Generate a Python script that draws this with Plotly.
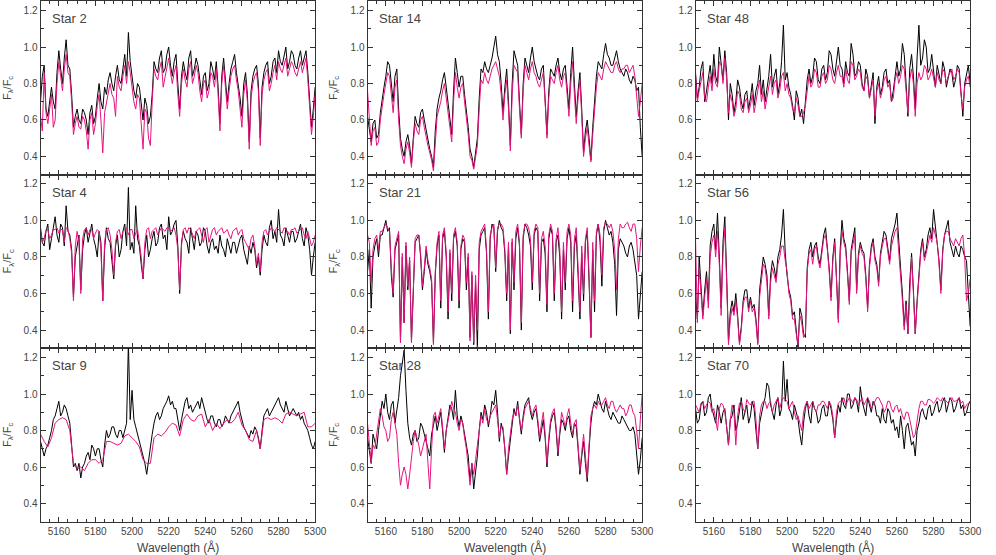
import numpy as np
import plotly.graph_objects as go

# wavelength grids (Angstrom): 1 A for the spectra, 2 A for the smooth Star 9 model
wave = np.arange(5150, 5301, 1)
wave_coarse = np.arange(5150, 5301, 2)

obs_2 = [0.70, 0.84, 0.90, 0.66, 0.62, 0.72, 0.78, 0.70, 0.66, 0.86,
         0.98, 0.88, 0.80, 0.94, 1.04, 0.90, 0.88, 0.74, 0.56, 0.62,
         0.66, 0.60, 0.58, 0.66, 0.64, 0.60, 0.52, 0.64, 0.68, 0.58,
         0.62, 0.72, 0.80, 0.70, 0.66, 0.78, 0.74, 0.82, 0.86, 0.80,
         0.76, 0.84, 0.90, 0.82, 0.80, 0.88, 0.96, 0.84, 1.08, 0.92,
         0.82, 0.76, 0.72, 0.80, 0.78, 0.70, 0.60, 0.72, 0.68, 0.58,
         0.62, 0.74, 0.92, 0.88, 0.86, 0.94, 0.98, 0.86, 0.88, 0.96,
         1.00, 0.90, 0.84, 0.92, 0.96, 0.80, 0.66, 0.84, 0.92, 0.86,
         0.82, 0.94, 0.98, 0.84, 0.88, 0.94, 0.90, 0.82, 0.74, 0.84,
         0.86, 0.76, 0.80, 0.92, 0.88, 0.82, 0.92, 0.78, 0.58, 0.84,
         0.94, 0.82, 0.70, 0.80, 0.88, 0.92, 0.96, 0.86, 0.80, 0.72,
         0.62, 0.80, 0.86, 0.74, 0.48, 0.76, 0.84, 0.88, 0.90, 0.80,
         0.50, 0.78, 0.86, 0.90, 0.92, 0.80, 0.84, 0.92, 0.94, 0.86,
         0.98, 0.92, 0.90, 0.96, 1.00, 0.88, 0.92, 0.98, 0.96, 0.90,
         0.88, 0.94, 0.98, 0.90, 0.94, 0.98, 0.86, 0.72, 0.56, 0.66,
         0.78]
mod_2 = [0.62, 0.54, 0.86, 0.64, 0.58, 0.66, 0.74, 0.56, 0.60, 0.80,
         0.92, 0.84, 0.76, 0.88, 0.96, 0.86, 0.84, 0.70, 0.52, 0.58,
         0.62, 0.56, 0.55, 0.62, 0.60, 0.54, 0.44, 0.60, 0.64, 0.52,
         0.58, 0.68, 0.74, 0.60, 0.42, 0.64, 0.70, 0.76, 0.80, 0.74,
         0.72, 0.62, 0.84, 0.78, 0.76, 0.84, 0.90, 0.80, 0.92, 0.86,
         0.78, 0.70, 0.66, 0.74, 0.72, 0.58, 0.44, 0.66, 0.64, 0.50,
         0.46, 0.70, 0.88, 0.84, 0.82, 0.88, 0.92, 0.78, 0.84, 0.90,
         0.94, 0.86, 0.80, 0.86, 0.90, 0.74, 0.62, 0.80, 0.88, 0.82,
         0.78, 0.88, 0.92, 0.80, 0.84, 0.90, 0.86, 0.76, 0.70, 0.80,
         0.82, 0.72, 0.76, 0.86, 0.84, 0.78, 0.88, 0.74, 0.54, 0.80,
         0.90, 0.78, 0.66, 0.76, 0.84, 0.88, 0.90, 0.82, 0.76, 0.66,
         0.56, 0.74, 0.82, 0.70, 0.44, 0.72, 0.80, 0.84, 0.86, 0.76,
         0.46, 0.74, 0.82, 0.86, 0.88, 0.76, 0.80, 0.86, 0.90, 0.82,
         0.92, 0.88, 0.86, 0.90, 0.94, 0.84, 0.88, 0.92, 0.90, 0.86,
         0.84, 0.88, 0.92, 0.86, 0.90, 0.94, 0.82, 0.68, 0.52, 0.62,
         0.74]

obs_14 = [0.62, 0.54, 0.48, 0.58, 0.60, 0.50, 0.52, 0.64, 0.72, 0.78,
          0.84, 0.92, 0.90, 0.80, 0.70, 0.84, 0.88, 0.66, 0.50, 0.44,
          0.40, 0.48, 0.52, 0.46, 0.36, 0.50, 0.62, 0.58, 0.56, 0.64,
          0.66, 0.60, 0.54, 0.48, 0.44, 0.40, 0.34, 0.54, 0.66, 0.72,
          0.76, 0.82, 0.86, 0.78, 0.68, 0.60, 0.52, 0.76, 0.94, 0.86,
          0.78, 0.84, 0.84, 0.74, 0.66, 0.56, 0.44, 0.40, 0.34, 0.42,
          0.50, 0.72, 0.88, 0.86, 0.92, 0.88, 0.86, 0.90, 0.94, 1.00,
          1.06, 0.96, 0.92, 0.80, 0.64, 0.78, 0.88, 0.70, 0.46, 0.80,
          0.98, 0.94, 0.90, 0.70, 0.52, 0.80, 0.94, 0.90, 0.86, 0.94,
          1.00, 0.92, 0.88, 0.84, 0.82, 0.88, 0.90, 0.74, 0.52, 0.76,
          0.88, 0.86, 0.84, 0.90, 0.94, 0.86, 0.82, 0.88, 0.90, 0.78,
          0.66, 0.86, 1.00, 0.80, 0.62, 0.76, 0.86, 0.66, 0.42, 0.54,
          0.60, 0.50, 0.38, 0.56, 0.70, 0.84, 0.92, 0.90, 0.88, 0.96,
          1.02, 0.96, 0.94, 0.90, 0.90, 0.94, 0.98, 0.92, 0.88, 0.86,
          0.84, 0.88, 0.86, 0.82, 0.80, 0.84, 0.82, 0.76, 0.78, 0.56,
          0.40]
mod_14 = [0.76, 0.58, 0.46, 0.54, 0.56, 0.46, 0.48, 0.60, 0.68, 0.74,
          0.80, 0.86, 0.84, 0.74, 0.64, 0.78, 0.82, 0.60, 0.46, 0.40,
          0.36, 0.44, 0.48, 0.42, 0.34, 0.48, 0.58, 0.54, 0.52, 0.60,
          0.62, 0.56, 0.50, 0.46, 0.42, 0.38, 0.32, 0.50, 0.62, 0.66,
          0.70, 0.76, 0.80, 0.72, 0.64, 0.56, 0.48, 0.70, 0.86, 0.78,
          0.72, 0.78, 0.80, 0.70, 0.62, 0.52, 0.40, 0.38, 0.33, 0.40,
          0.46, 0.66, 0.82, 0.80, 0.86, 0.82, 0.80, 0.84, 0.88, 0.90,
          0.92, 0.88, 0.84, 0.74, 0.60, 0.74, 0.82, 0.66, 0.43, 0.74,
          0.90, 0.88, 0.86, 0.66, 0.50, 0.76, 0.90, 0.86, 0.82, 0.88,
          0.92, 0.86, 0.84, 0.80, 0.78, 0.82, 0.86, 0.70, 0.50, 0.72,
          0.84, 0.82, 0.80, 0.86, 0.90, 0.82, 0.78, 0.84, 0.86, 0.74,
          0.62, 0.80, 0.92, 0.74, 0.58, 0.72, 0.82, 0.62, 0.40, 0.50,
          0.56, 0.46, 0.37, 0.52, 0.66, 0.78, 0.86, 0.84, 0.82, 0.88,
          0.92, 0.90, 0.88, 0.86, 0.86, 0.90, 0.92, 0.88, 0.86, 0.88,
          0.88, 0.90, 0.90, 0.86, 0.88, 0.90, 0.84, 0.72, 0.62, 0.70,
          0.80]

obs_48 = [0.86, 0.72, 0.78, 0.88, 0.92, 0.70, 0.76, 0.84, 0.90, 0.80,
          0.96, 0.84, 0.80, 1.00, 0.92, 0.82, 0.98, 0.86, 0.60, 0.80,
          0.74, 0.64, 0.70, 0.82, 0.78, 0.70, 0.66, 0.74, 0.76, 0.66,
          0.72, 0.80, 0.68, 0.76, 0.80, 0.90, 0.74, 0.82, 0.70, 0.78,
          0.84, 0.96, 0.78, 0.84, 0.88, 0.74, 0.80, 0.92, 1.12, 0.82,
          0.86, 0.78, 0.74, 0.68, 0.60, 0.76, 0.72, 0.62, 0.66, 0.58,
          0.70, 0.82, 0.88, 0.80, 0.84, 0.94, 0.92, 0.82, 0.80, 0.88,
          0.90, 0.82, 0.86, 0.98, 0.96, 0.88, 0.84, 0.92, 1.00, 0.90,
          0.88, 0.80, 0.92, 0.86, 0.84, 1.02, 0.96, 0.84, 0.86, 0.92,
          0.90, 0.80, 0.76, 0.88, 0.84, 0.72, 0.80, 0.86, 0.58, 0.78,
          0.84, 0.74, 0.78, 0.86, 0.88, 0.80, 0.82, 0.70, 0.76, 0.86,
          0.92, 0.84, 0.88, 1.02, 0.96, 0.80, 0.62, 0.88, 0.96, 0.84,
          0.66, 0.94, 1.12, 0.90, 0.94, 1.04, 1.00, 0.86, 0.88, 0.96,
          0.86, 0.78, 0.90, 0.84, 0.80, 0.92, 0.88, 0.78, 0.84, 0.88,
          0.86, 0.78, 0.82, 0.90, 0.88, 0.76, 0.62, 0.80, 0.86, 0.90,
          0.80]
mod_48 = [0.84, 0.70, 0.76, 0.82, 0.86, 0.72, 0.70, 0.78, 0.84, 0.76,
          0.88, 0.80, 0.78, 0.92, 0.90, 0.80, 0.94, 0.82, 0.64, 0.74,
          0.70, 0.62, 0.66, 0.76, 0.74, 0.66, 0.64, 0.70, 0.72, 0.64,
          0.68, 0.74, 0.64, 0.70, 0.76, 0.82, 0.70, 0.76, 0.66, 0.72,
          0.78, 0.84, 0.74, 0.80, 0.82, 0.72, 0.76, 0.84, 0.86, 0.76,
          0.80, 0.74, 0.72, 0.66, 0.64, 0.72, 0.68, 0.62, 0.62, 0.64,
          0.68, 0.78, 0.84, 0.78, 0.80, 0.88, 0.86, 0.78, 0.78, 0.84,
          0.86, 0.80, 0.82, 0.90, 0.88, 0.82, 0.80, 0.86, 0.90, 0.84,
          0.84, 0.78, 0.88, 0.82, 0.80, 0.92, 0.90, 0.82, 0.84, 0.88,
          0.86, 0.78, 0.76, 0.84, 0.82, 0.72, 0.78, 0.82, 0.62, 0.76,
          0.80, 0.72, 0.76, 0.82, 0.84, 0.78, 0.80, 0.70, 0.72, 0.82,
          0.86, 0.80, 0.84, 0.90, 0.88, 0.78, 0.64, 0.82, 0.88, 0.80,
          0.62, 0.80, 0.86, 0.82, 0.84, 0.90, 0.88, 0.82, 0.84, 0.88,
          0.82, 0.78, 0.86, 0.82, 0.80, 0.88, 0.86, 0.80, 0.84, 0.86,
          0.88, 0.82, 0.84, 0.88, 0.86, 0.74, 0.66, 0.78, 0.82, 0.84,
          0.78]

obs_4 = [0.96, 0.88, 0.86, 0.94, 0.98, 0.84, 0.90, 0.96, 1.02, 0.92,
         0.88, 0.98, 0.96, 0.86, 1.08, 0.94, 0.92, 0.84, 0.58, 0.80,
         0.86, 0.92, 0.62, 0.84, 0.92, 0.96, 0.88, 0.94, 0.98, 0.90,
         0.86, 0.80, 0.94, 0.88, 0.56, 0.84, 0.96, 0.90, 0.88, 0.78,
         0.68, 0.86, 0.92, 0.80, 0.84, 0.94, 0.98, 0.86, 1.18, 0.84,
         0.88, 0.82, 1.08, 0.90, 0.86, 0.76, 0.68, 0.84, 0.92, 0.80,
         0.84, 0.90, 0.94, 0.86, 0.88, 0.96, 0.98, 0.90, 0.92, 0.84,
         1.02, 0.92, 0.94, 0.98, 1.00, 0.86, 0.60, 0.88, 0.94, 0.90,
         0.88, 0.82, 0.96, 0.90, 0.84, 0.94, 0.92, 0.86, 0.88, 0.96,
         0.94, 0.86, 0.82, 0.88, 0.90, 0.84, 0.86, 0.82, 0.92, 0.86,
         0.84, 0.80, 0.90, 0.86, 0.82, 0.88, 0.88, 0.82, 0.86, 0.90,
         0.92, 0.84, 0.80, 0.76, 0.86, 0.82, 0.88, 0.84, 0.74, 0.80,
         0.70, 0.84, 0.92, 0.88, 0.86, 0.96, 1.00, 0.90, 0.94, 0.88,
         1.06, 0.92, 0.90, 0.86, 0.96, 0.92, 0.88, 0.94, 0.94, 0.88,
         0.90, 0.94, 0.98, 0.90, 0.86, 0.96, 0.92, 0.84, 0.70, 0.80,
         0.88]
mod_4 = [0.94, 0.88, 0.90, 0.95, 0.95, 0.90, 0.92, 0.95, 0.95, 0.96,
         0.93, 0.95, 0.95, 0.88, 0.96, 0.95, 0.90, 0.82, 0.56, 0.86,
         0.94, 0.88, 0.60, 0.90, 0.95, 0.96, 0.92, 0.95, 0.95, 0.90,
         0.93, 0.95, 0.94, 0.84, 0.56, 0.88, 0.95, 0.96, 0.92, 0.84,
         0.70, 0.88, 0.94, 0.95, 0.90, 0.94, 0.95, 0.96, 0.92, 0.95,
         0.95, 0.90, 0.93, 0.95, 0.88, 0.80, 0.68, 0.88, 0.95, 0.96,
         0.90, 0.94, 0.95, 0.96, 0.92, 0.94, 0.96, 0.95, 0.94, 0.96,
         0.96, 0.94, 0.95, 0.96, 0.92, 0.84, 0.62, 0.86, 0.95, 0.96,
         0.93, 0.96, 0.95, 0.92, 0.90, 0.94, 0.95, 0.96, 0.92, 0.88,
         0.95, 0.96, 0.88, 0.92, 0.95, 0.96, 0.92, 0.94, 0.95, 0.96,
         0.93, 0.94, 0.95, 0.92, 0.90, 0.94, 0.95, 0.96, 0.92, 0.94,
         0.95, 0.90, 0.88, 0.86, 0.84, 0.90, 0.92, 0.86, 0.76, 0.82,
         0.72, 0.88, 0.94, 0.95, 0.92, 0.94, 0.96, 0.95, 0.94, 0.96,
         0.95, 0.94, 0.93, 0.96, 0.95, 0.94, 0.92, 0.95, 0.95, 0.96,
         0.93, 0.94, 0.95, 0.96, 0.92, 0.90, 0.94, 0.90, 0.86, 0.88,
         0.92]

obs_21 = [0.72, 0.84, 0.52, 0.80, 0.86, 0.90, 0.80, 0.92, 0.92, 0.96,
          1.00, 0.94, 0.96, 0.70, 0.58, 0.84, 0.88, 0.92, 0.34, 0.80,
          0.44, 0.86, 0.62, 0.78, 0.34, 0.60, 0.88, 0.90, 0.92, 0.80,
          0.62, 0.72, 0.84, 0.76, 0.72, 0.66, 0.33, 0.70, 0.86, 0.92,
          0.52, 0.90, 0.94, 0.80, 0.46, 0.82, 0.56, 0.90, 0.94, 0.86,
          0.52, 0.84, 0.90, 0.88, 0.62, 0.80, 0.36, 0.70, 0.32, 0.66,
          0.30, 0.84, 0.92, 0.94, 0.96, 0.82, 0.46, 0.90, 0.98, 0.96,
          0.72, 0.94, 1.00, 0.96, 0.94, 0.82, 0.56, 0.86, 0.38, 0.88,
          0.62, 0.90, 0.96, 0.86, 0.40, 0.90, 0.98, 0.96, 0.92, 0.86,
          0.62, 0.92, 0.96, 0.94, 0.56, 0.88, 0.90, 0.82, 0.50, 0.90,
          0.96, 0.92, 0.56, 0.88, 0.92, 0.80, 0.46, 0.84, 0.62, 0.90,
          0.96, 0.88, 0.50, 0.86, 0.92, 0.70, 0.46, 0.82, 0.56, 0.88,
          0.94, 0.66, 0.36, 0.84, 0.50, 0.92, 0.98, 0.88, 0.64, 0.94,
          1.00, 0.96, 0.92, 0.94, 0.88, 0.76, 0.48, 0.84, 0.90, 0.88,
          0.86, 0.82, 0.80, 0.86, 0.88, 0.84, 0.78, 0.70, 0.46, 0.60,
          0.72]
mod_21 = [0.92, 0.88, 0.66, 0.84, 0.90, 0.92, 0.84, 0.94, 0.94, 0.96,
          0.98, 0.96, 0.94, 0.74, 0.60, 0.86, 0.90, 0.94, 0.33, 0.82,
          0.44, 0.88, 0.64, 0.80, 0.33, 0.62, 0.90, 0.92, 0.92, 0.82,
          0.64, 0.74, 0.86, 0.78, 0.74, 0.68, 0.32, 0.72, 0.88, 0.94,
          0.56, 0.92, 0.96, 0.82, 0.50, 0.84, 0.60, 0.92, 0.96, 0.88,
          0.56, 0.86, 0.92, 0.90, 0.66, 0.82, 0.34, 0.72, 0.33, 0.70,
          0.40, 0.88, 0.94, 0.96, 0.98, 0.84, 0.50, 0.92, 0.96, 0.98,
          0.74, 0.96, 0.98, 0.98, 0.96, 0.84, 0.60, 0.88, 0.40, 0.90,
          0.66, 0.94, 0.98, 0.88, 0.44, 0.92, 0.98, 0.98, 0.96, 0.90,
          0.66, 0.94, 0.98, 0.96, 0.60, 0.90, 0.94, 0.86, 0.54, 0.92,
          0.98, 0.94, 0.60, 0.90, 0.96, 0.84, 0.50, 0.88, 0.66, 0.94,
          0.98, 0.92, 0.56, 0.90, 0.96, 0.74, 0.50, 0.86, 0.60, 0.90,
          0.96, 0.70, 0.36, 0.88, 0.56, 0.94, 0.98, 0.92, 0.70, 0.96,
          0.99, 0.98, 0.96, 0.98, 0.94, 0.84, 0.62, 0.90, 0.98, 0.96,
          0.96, 0.98, 0.99, 0.96, 0.94, 0.98, 0.98, 0.90, 0.72, 0.86,
          0.96]

obs_56 = [0.60, 0.46, 0.80, 0.66, 0.48, 0.62, 0.72, 0.56, 0.86, 0.94,
          0.98, 0.84, 1.04, 0.80, 0.52, 0.88, 1.02, 0.70, 0.34, 0.50,
          0.56, 0.50, 0.60, 0.48, 0.33, 0.42, 0.56, 0.62, 0.62, 0.52,
          0.58, 0.52, 0.54, 0.46, 0.33, 0.62, 0.72, 0.80, 0.76, 0.70,
          0.48, 0.70, 0.78, 0.74, 0.68, 0.80, 0.84, 0.92, 1.06, 0.82,
          0.70, 0.62, 0.58, 0.48, 0.50, 0.40, 0.30, 0.52, 0.48, 0.38,
          0.36, 0.74, 0.84, 0.88, 0.80, 0.86, 0.88, 0.80, 0.76, 0.84,
          0.92, 0.96, 0.86, 0.74, 0.58, 0.80, 0.90, 0.70, 0.46, 0.84,
          1.00, 0.90, 0.86, 0.72, 0.56, 0.84, 0.90, 0.96, 0.62, 0.82,
          0.88, 0.84, 0.82, 0.70, 0.52, 0.76, 0.86, 0.90, 0.80, 0.76,
          0.66, 0.82, 0.88, 0.94, 0.92, 0.84, 0.78, 0.90, 0.94, 0.98,
          1.04, 0.86, 0.74, 0.60, 0.42, 0.56, 0.38, 0.66, 0.82, 0.62,
          0.38, 0.56, 0.72, 0.84, 0.90, 0.80, 0.84, 0.92, 0.96, 0.90,
          1.06, 0.96, 0.90, 0.78, 0.62, 0.84, 0.92, 0.96, 1.00, 0.88,
          0.84, 0.80, 0.86, 0.82, 0.80, 0.86, 0.84, 0.80, 0.78, 0.60,
          0.42]
mod_56 = [0.90, 0.44, 0.74, 0.62, 0.46, 0.58, 0.68, 0.52, 0.80, 0.88,
          0.92, 0.80, 0.94, 0.76, 0.48, 0.82, 0.96, 0.66, 0.32, 0.46,
          0.52, 0.48, 0.56, 0.46, 0.32, 0.40, 0.54, 0.58, 0.58, 0.50,
          0.56, 0.50, 0.52, 0.44, 0.32, 0.58, 0.68, 0.76, 0.74, 0.66,
          0.46, 0.66, 0.74, 0.70, 0.66, 0.76, 0.80, 0.86, 0.86, 0.78,
          0.72, 0.60, 0.56, 0.46, 0.46, 0.38, 0.32, 0.48, 0.44, 0.36,
          0.38, 0.72, 0.82, 0.84, 0.76, 0.84, 0.86, 0.78, 0.74, 0.82,
          0.90, 0.92, 0.84, 0.72, 0.56, 0.78, 0.88, 0.68, 0.44, 0.80,
          0.94, 0.88, 0.84, 0.70, 0.54, 0.82, 0.88, 0.92, 0.60, 0.80,
          0.86, 0.82, 0.80, 0.68, 0.50, 0.74, 0.84, 0.88, 0.78, 0.74,
          0.64, 0.80, 0.86, 0.90, 0.90, 0.82, 0.76, 0.86, 0.90, 0.94,
          0.96, 0.84, 0.70, 0.56, 0.40, 0.54, 0.38, 0.64, 0.80, 0.60,
          0.38, 0.54, 0.70, 0.82, 0.88, 0.78, 0.82, 0.88, 0.92, 0.88,
          0.96, 0.92, 0.88, 0.76, 0.60, 0.82, 0.92, 0.94, 0.94, 0.90,
          0.88, 0.86, 0.90, 0.88, 0.86, 0.90, 0.92, 0.80, 0.56, 0.60,
          0.68]

obs_9 = [0.74, 0.70, 0.66, 0.70, 0.72, 0.76, 0.80, 0.86, 0.88, 0.92,
         0.96, 0.88, 0.90, 0.94, 0.92, 0.88, 0.84, 0.72, 0.60, 0.62,
         0.58, 0.62, 0.54, 0.60, 0.62, 0.66, 0.68, 0.64, 0.72, 0.70,
         0.66, 0.70, 0.70, 0.64, 0.60, 0.72, 0.80, 0.76, 0.78, 0.82,
         0.82, 0.78, 0.76, 0.80, 0.80, 0.76, 0.80, 0.84, 1.28, 0.86,
         1.02, 0.86, 0.82, 0.78, 0.74, 0.70, 0.66, 0.62, 0.56, 0.64,
         0.70, 0.78, 0.84, 0.88, 0.90, 0.86, 0.88, 0.92, 0.94, 0.96,
         0.99, 0.94, 0.96, 0.92, 0.92, 0.86, 0.80, 0.86, 0.92, 0.96,
         0.98, 0.92, 0.94, 0.90, 0.92, 0.94, 0.96, 0.92, 0.98, 0.94,
         0.90, 0.86, 0.84, 0.88, 0.88, 0.84, 0.82, 0.86, 0.86, 0.82,
         0.84, 0.88, 0.86, 0.84, 0.88, 0.90, 0.92, 0.94, 0.96, 0.90,
         0.86, 0.82, 0.80, 0.78, 0.76, 0.80, 0.78, 0.82, 0.80, 0.76,
         0.70, 0.80, 0.88, 0.90, 0.92, 0.88, 0.90, 0.92, 0.94, 0.96,
         0.98, 0.94, 0.92, 0.90, 0.96, 0.92, 0.88, 0.90, 0.92, 0.90,
         0.88, 0.90, 0.86, 0.88, 0.84, 0.82, 0.80, 0.76, 0.72, 0.70,
         0.74]
mod_9 = [0.78, 0.74, 0.71, 0.76, 0.84, 0.86, 0.87, 0.86, 0.80, 0.62,
         0.59, 0.60, 0.58, 0.62, 0.64, 0.64, 0.62, 0.64, 0.74, 0.74,
         0.73, 0.72, 0.73, 0.77, 0.78, 0.76, 0.74, 0.71, 0.64, 0.62,
         0.62, 0.76, 0.78, 0.77, 0.79, 0.82, 0.84, 0.83, 0.77, 0.86,
         0.89, 0.86, 0.85, 0.88, 0.89, 0.82, 0.86, 0.80, 0.84, 0.81,
         0.84, 0.86, 0.84, 0.86, 0.90, 0.83, 0.80, 0.75, 0.74, 0.80,
         0.70, 0.86, 0.87, 0.86, 0.87, 0.86, 0.84, 0.89, 0.90, 0.89,
         0.88, 0.89, 0.90, 0.82, 0.82, 0.84]

obs_28 = [0.76, 0.70, 0.62, 0.78, 0.74, 0.70, 0.80, 0.90, 0.96, 0.92,
          1.00, 0.90, 0.86, 0.94, 0.96, 0.84, 0.90, 0.98, 1.10, 1.18,
          1.24, 1.02, 0.84, 0.76, 0.72, 0.78, 0.80, 0.74, 0.76, 0.84,
          0.82, 0.78, 0.74, 0.70, 0.66, 0.78, 0.84, 0.88, 0.80, 0.86,
          0.90, 0.80, 0.68, 0.80, 0.86, 0.94, 0.92, 0.86, 1.02, 0.88,
          0.82, 0.88, 0.84, 0.78, 0.72, 0.66, 0.52, 0.62, 0.48, 0.56,
          0.66, 0.80, 0.90, 0.86, 0.94, 0.90, 0.82, 0.88, 0.96, 0.94,
          1.02, 0.90, 0.74, 0.84, 0.80, 0.70, 0.56, 0.66, 0.76, 0.86,
          0.92, 0.88, 0.96, 0.86, 0.78, 0.88, 0.94, 0.96, 0.98, 0.90,
          0.86, 0.90, 0.92, 0.84, 0.74, 0.80, 0.86, 0.76, 0.60, 0.74,
          0.84, 0.88, 0.90, 0.80, 0.66, 0.78, 0.86, 0.84, 0.80, 0.86,
          0.88, 0.80, 0.76, 0.84, 0.82, 0.70, 0.56, 0.66, 0.74, 0.62,
          0.52, 0.70, 0.84, 0.92, 0.96, 0.94, 1.00, 0.96, 0.92, 0.90,
          0.96, 0.92, 0.88, 0.86, 0.90, 0.88, 0.86, 0.84, 0.84, 0.88,
          0.86, 0.84, 0.82, 0.80, 0.80, 0.82, 0.78, 0.66, 0.56, 0.64,
          0.76]
mod_28 = [0.84, 0.74, 0.62, 0.72, 0.70, 0.78, 0.86, 0.92, 0.88, 0.82,
          0.80, 0.74, 0.76, 0.86, 0.90, 0.84, 0.78, 0.62, 0.50, 0.56,
          0.60, 0.56, 0.48, 0.56, 0.66, 0.74, 0.80, 0.76, 0.72, 0.66,
          0.70, 0.74, 0.78, 0.62, 0.48, 0.70, 0.88, 0.90, 0.84, 0.88,
          0.92, 0.82, 0.70, 0.80, 0.86, 0.92, 0.96, 0.92, 0.90, 0.84,
          0.80, 0.86, 0.84, 0.76, 0.70, 0.60, 0.50, 0.62, 0.56, 0.64,
          0.72, 0.82, 0.88, 0.84, 0.92, 0.86, 0.84, 0.88, 0.90, 0.92,
          0.94, 0.86, 0.76, 0.82, 0.82, 0.70, 0.56, 0.70, 0.80, 0.86,
          0.90, 0.88, 0.94, 0.86, 0.80, 0.86, 0.92, 0.94, 0.96, 0.92,
          0.88, 0.92, 0.94, 0.86, 0.76, 0.84, 0.90, 0.78, 0.62, 0.76,
          0.86, 0.90, 0.92, 0.82, 0.68, 0.80, 0.90, 0.86, 0.82, 0.88,
          0.92, 0.84, 0.78, 0.84, 0.86, 0.72, 0.58, 0.68, 0.78, 0.66,
          0.54, 0.72, 0.88, 0.92, 0.94, 0.92, 0.96, 0.94, 0.94, 0.96,
          0.98, 0.94, 0.92, 0.96, 0.96, 0.92, 0.90, 0.92, 0.94, 0.92,
          0.92, 0.88, 0.90, 0.94, 0.94, 0.90, 0.88, 0.80, 0.70, 0.86,
          1.00]

obs_70 = [0.92, 0.84, 0.86, 0.94, 0.96, 0.88, 0.90, 0.98, 1.00, 0.92,
          0.88, 0.84, 0.94, 0.90, 0.84, 0.90, 0.92, 0.82, 0.72, 0.86,
          0.88, 0.94, 0.80, 0.84, 0.92, 0.98, 0.86, 0.90, 0.94, 0.84,
          0.88, 0.96, 0.92, 0.80, 0.70, 0.84, 0.90, 0.94, 0.98, 1.06,
          1.04, 0.94, 0.90, 0.86, 0.94, 0.98, 0.88, 0.92, 1.18, 0.96,
          1.08, 0.92, 0.90, 0.86, 0.94, 0.90, 0.86, 0.78, 0.72, 0.84,
          0.92, 0.96, 0.88, 0.84, 0.96, 0.92, 0.90, 0.84, 0.86, 0.92,
          0.94, 0.88, 0.88, 0.96, 0.92, 0.86, 0.76, 0.86, 0.94, 0.90,
          0.98, 0.94, 0.92, 1.00, 1.00, 0.92, 0.94, 0.98, 0.96, 0.90,
          1.04, 0.96, 0.92, 0.88, 0.98, 0.94, 0.90, 0.96, 0.94, 0.88,
          0.88, 0.84, 0.92, 0.86, 0.84, 0.92, 0.90, 0.84, 0.86, 0.80,
          0.82, 0.76, 0.88, 0.80, 0.70, 0.82, 0.84, 0.78, 0.72, 0.74,
          0.66, 0.80, 0.84, 0.90, 0.92, 0.88, 0.86, 0.92, 0.94, 0.88,
          0.90, 0.94, 0.96, 0.90, 0.92, 0.96, 0.98, 0.90, 0.94, 0.98,
          0.96, 0.90, 0.92, 0.96, 0.98, 0.92, 0.94, 0.88, 0.90, 0.94,
          0.96]
mod_70 = [0.94, 0.92, 0.90, 0.95, 0.96, 0.92, 0.94, 0.96, 0.95, 0.90,
          0.92, 0.86, 0.80, 0.92, 0.95, 0.94, 0.90, 0.82, 0.72, 0.86,
          0.94, 0.90, 0.72, 0.88, 0.95, 0.96, 0.92, 0.90, 0.97, 0.95,
          0.94, 0.96, 0.96, 0.86, 0.70, 0.88, 0.94, 0.96, 0.96, 0.92,
          0.95, 0.96, 0.90, 0.94, 0.96, 0.98, 0.92, 0.96, 0.98, 0.97,
          0.96, 0.92, 0.94, 0.96, 0.90, 0.86, 0.88, 0.84, 0.80, 0.90,
          0.94, 0.96, 0.92, 0.94, 0.96, 0.92, 0.90, 0.94, 0.94, 0.96,
          0.96, 0.94, 0.92, 0.96, 0.94, 0.88, 0.76, 0.90, 0.95, 0.96,
          0.96, 0.98, 0.94, 0.96, 0.98, 0.97, 0.95, 0.98, 0.97, 0.94,
          0.96, 0.98, 0.94, 0.96, 0.98, 0.96, 0.92, 0.94, 0.96, 0.98,
          0.98, 0.96, 0.94, 0.90, 0.92, 0.96, 0.96, 0.92, 0.90, 0.93,
          0.94, 0.90, 0.92, 0.88, 0.86, 0.90, 0.90, 0.86, 0.80, 0.76,
          0.78, 0.86, 0.92, 0.96, 0.96, 0.94, 0.94, 0.97, 0.97, 0.96,
          0.95, 0.96, 0.98, 0.97, 0.96, 0.98, 0.97, 0.96, 0.95, 0.97,
          0.98, 0.96, 0.96, 0.97, 0.98, 0.95, 0.96, 0.92, 0.94, 0.95,
          0.96]

# panels in reading order (row by row): label, observed, model, model grid
panels = [
    ("Star 2", obs_2, mod_2, wave), ("Star 14", obs_14, mod_14, wave), ("Star 48", obs_48, mod_48, wave),
    ("Star 4", obs_4, mod_4, wave), ("Star 21", obs_21, mod_21, wave), ("Star 56", obs_56, mod_56, wave),
    ("Star 9", obs_9, mod_9, wave_coarse), ("Star 28", obs_28, mod_28, wave), ("Star 70", obs_70, mod_70, wave),
]

W, H = 996, 555
col_px = [(41, 319), (372, 650), (704, 982)]
row_px = [(0.5, 174), (174, 348), (348, 521.7)]

axis_col = "#333333"
text_col = "#444444"
font_family = "Liberation Sans, Arial, sans-serif"

fig = go.Figure()
annotations = []

for k, (name, obs, mod, mod_wave) in enumerate(panels):
    r, c = divmod(k, 3)
    sfx = "" if k == 0 else str(k + 1)
    fig.add_trace(go.Scatter(x=wave, y=obs, mode="lines", line=dict(color="black", width=1),
                             xaxis="x" + sfx, yaxis="y" + sfx, showlegend=False, hoverinfo="skip"))
    fig.add_trace(go.Scatter(x=mod_wave, y=mod, mode="lines", line=dict(color="#E4147F", width=1),
                             xaxis="x" + sfx, yaxis="y" + sfx, showlegend=False, hoverinfo="skip"))

    x0, x1 = col_px[c]
    y0, y1 = row_px[r]
    fig.layout["xaxis" + sfx] = dict(
        domain=[x0 / W, x1 / W], anchor="y" + sfx, range=[5150, 5300],
        showline=True, mirror="allticks", linecolor=axis_col, linewidth=1,
        ticks="inside", ticklen=5, tickcolor=axis_col, tick0=5160, dtick=20,
        minor=dict(ticks="inside", ticklen=3, dtick=5, tickcolor=axis_col),
        showgrid=False, zeroline=False, showticklabels=(r == 2),
        tickfont=dict(family=font_family, size=10, color=text_col),
    )
    fig.layout["yaxis" + sfx] = dict(
        domain=[1 - y1 / H, 1 - y0 / H], anchor="x" + sfx, range=[0.3, 1.25],
        showline=True, mirror="allticks", linecolor=axis_col, linewidth=1,
        ticks="inside", ticklen=5, tickcolor=axis_col, tick0=0.4, dtick=0.2, tickformat=".1f",
        minor=dict(ticks="inside", ticklen=3, dtick=0.1, tickcolor=axis_col),
        showgrid=False, zeroline=False,
        tickfont=dict(family=font_family, size=10, color=text_col),
    )

    annotations.append(dict(text=name, xref="x" + sfx + " domain", yref="y" + sfx + " domain",
                            x=0.033, y=0.955, xanchor="left", yanchor="top", showarrow=False,
                            font=dict(family=font_family, size=13, color=text_col)))
    if c < 2:
        label_x = [8, 338][c]
        annotations.append(dict(text="F<sub>λ</sub>/F<sub>c</sub>", xref="paper", yref="paper",
                                x=label_x / W, y=1 - (y0 + y1) / 2 / H, textangle=-90,
                                xanchor="center", yanchor="middle", showarrow=False,
                                font=dict(family=font_family, size=11, color=text_col)))
    if r == 2:
        annotations.append(dict(text="Wavelength (Å)", xref="paper", yref="paper",
                                x=(x0 + x1) / 2 / W, y=1 - 547 / H, xanchor="center", yanchor="middle",
                                showarrow=False, font=dict(family=font_family, size=12, color=text_col)))

fig.update_layout(
    width=W, height=H, autosize=False,
    margin=dict(l=0, r=0, t=0, b=0),
    paper_bgcolor="white", plot_bgcolor="white",
    annotations=annotations,
)

# fixed-size page: no body margin and no scrollbars, so the figure fills the window exactly
fig.write_html("out.html", config={"displayModeBar": False, "responsive": False},
               post_script="document.body.style.margin='0';"
                           "document.body.style.overflow='hidden';"
                           "document.documentElement.style.overflow='hidden';")
